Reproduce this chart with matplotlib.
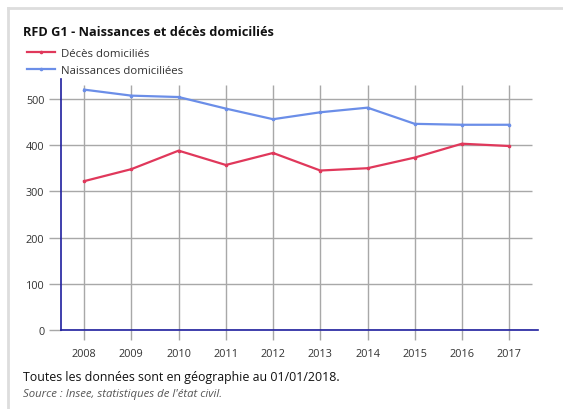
"""
RFD G1 - Naissances et décès domiciliés (line chart, 2008-2017)
"""

import matplotlib
matplotlib.use('Agg')
import matplotlib.pyplot as plt
from matplotlib.lines import Line2D


# Data
years = [2008, 2009, 2010, 2011, 2012, 2013, 2014, 2015, 2016, 2017]
deces = [322, 348, 388, 357, 383, 345, 350, 373, 403, 398]
naissances = [520, 507, 504, 479, 456, 471, 481, 446, 444, 444]
yticks = [0, 100, 200, 300, 400, 500]

title = "RFD G1 - Naissances et décès domiciliés"
label_deces = "Décès domiciliés"
label_naissances = "Naissances domiciliées"
note = "Toutes les données sont en géographie au 01/01/2018."
source = "Source : Insee, statistiques de l'état civil."

RED = '#e0385b'
BLUE = '#6b8ee8'
GRID = '#a8a8a8'
AXIS = '#1f1f9e'
TEXT = '#333333'

plt.rcParams['font.family'] = ['Open Sans', 'DejaVu Sans']

W, H = 563, 410
fig = plt.figure(figsize=(W / 100, H / 100), dpi=100)
fig.patch.set_facecolor('white')

# card border: top and left edges only
fig.add_artist(Line2D([8 / W, 1], [1 - 9 / H, 1 - 9 / H],
                      transform=fig.transFigure, color='#dddddd', linewidth=2))
fig.add_artist(Line2D([8 / W, 8 / W], [0, 1 - 9 / H],
                      transform=fig.transFigure, color='#dddddd', linewidth=2))

ax = fig.add_axes([61 / W, 1 - 331 / H, (538 - 61) / W, (331 - 80) / H])
ax.set_xlim(2007.51, 2017.61)
ax.set_ylim(0, 543)

# grid lines
ax.hlines(yticks, 2007.51, 2017.49, colors=GRID, linewidth=1, zorder=1)
ax.vlines(years, 0, 530, colors=GRID, linewidth=1, zorder=1)

ax.plot(years, deces, color=RED, linewidth=1.6, marker='o', markersize=1.6,
        label=label_deces, zorder=3)
ax.plot(years, naissances, color=BLUE, linewidth=1.6, marker='o',
        markersize=1.6, label=label_naissances, zorder=3)

ax.set_xticks(years)
ax.set_yticks(yticks)
ax.tick_params(axis='both', length=9, width=1, color=GRID, labelsize=7.8,
               labelcolor=TEXT)
ax.tick_params(axis='x', length=7, pad=6)
ax.tick_params(axis='y', pad=3)

for side in ['top', 'right']:
    ax.spines[side].set_visible(False)
for side in ['left', 'bottom']:
    ax.spines[side].set_color(AXIS)
    ax.spines[side].set_linewidth(1.2)
    ax.spines[side].set_zorder(4)

fig.text(23 / W, 1 - 32 / H, title, fontsize=9.2, fontweight='bold',
         color='#111111', va='center', ha='left')

fig.legend(loc='upper left', bbox_to_anchor=(17 / W, 1 - 39 / H),
           frameon=False, fontsize=8.2, handlelength=2.4, handletextpad=0.6,
           labelspacing=0.5, labelcolor=TEXT)

fig.text(23 / W, 1 - 378 / H, note, fontsize=8.9, color='#111111',
         va='center', ha='left')
fig.text(23 / W, 1 - 395 / H, source, fontsize=8.2, color='#555555',
         style='italic', va='center', ha='left')

fig.savefig('out.png', dpi=100)
